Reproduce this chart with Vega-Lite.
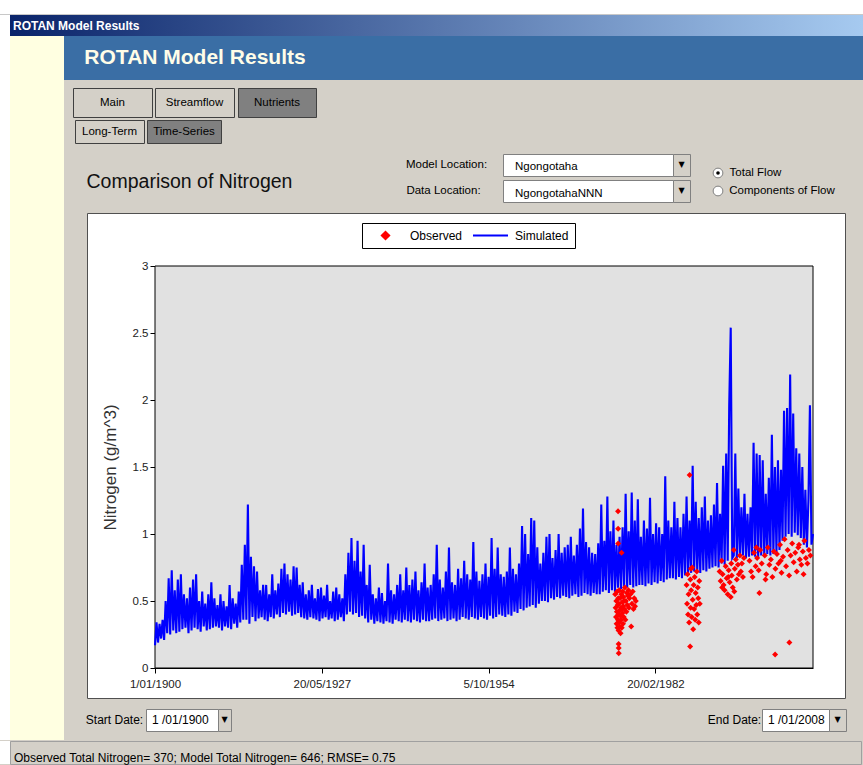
{
"$schema":"https://vega.github.io/schema/vega-lite/v6.json",
"background":"#d4d0c8",
"padding":0,
"autosize":{"type":"pad"},
"spacing":0,
"config":{"view":{"stroke":null},"font":"Liberation Sans","concat":{"spacing":0}},
"datasets":{
"sim":[
{"d":"1900-01","v":0.17},{"d":"1900-04","v":0.34},{"d":"1900-07","v":0.19},{"d":"1900-10","v":0.33},
{"d":"1901-01","v":0.22},{"d":"1901-04","v":0.36},{"d":"1901-07","v":0.21},{"d":"1901-10","v":0.5},
{"d":"1902-01","v":0.26},{"d":"1902-04","v":0.67},{"d":"1902-07","v":0.25},{"d":"1902-10","v":0.73},
{"d":"1903-01","v":0.28},{"d":"1903-04","v":0.58},{"d":"1903-07","v":0.26},{"d":"1903-10","v":0.66},
{"d":"1904-01","v":0.27},{"d":"1904-04","v":0.7},{"d":"1904-07","v":0.29},{"d":"1904-10","v":0.55},
{"d":"1905-01","v":0.3},{"d":"1905-04","v":0.52},{"d":"1905-07","v":0.26},{"d":"1905-10","v":0.6},
{"d":"1906-01","v":0.28},{"d":"1906-04","v":0.66},{"d":"1906-07","v":0.3},{"d":"1906-10","v":0.7},
{"d":"1907-01","v":0.29},{"d":"1907-04","v":0.5},{"d":"1907-07","v":0.27},{"d":"1907-10","v":0.57},
{"d":"1908-01","v":0.31},{"d":"1908-04","v":0.48},{"d":"1908-07","v":0.28},{"d":"1908-10","v":0.55},
{"d":"1909-01","v":0.29},{"d":"1909-04","v":0.64},{"d":"1909-07","v":0.3},{"d":"1909-10","v":0.52},
{"d":"1910-01","v":0.31},{"d":"1910-04","v":0.47},{"d":"1910-07","v":0.3},{"d":"1910-10","v":0.55},
{"d":"1911-01","v":0.28},{"d":"1911-04","v":0.5},{"d":"1911-07","v":0.31},{"d":"1911-10","v":0.46},
{"d":"1912-01","v":0.3},{"d":"1912-04","v":0.62},{"d":"1912-07","v":0.29},{"d":"1912-10","v":0.52},
{"d":"1913-01","v":0.33},{"d":"1913-04","v":0.48},{"d":"1913-07","v":0.3},{"d":"1913-10","v":0.57},
{"d":"1914-01","v":0.34},{"d":"1914-04","v":0.77},{"d":"1914-07","v":0.36},{"d":"1914-10","v":0.92},
{"d":"1915-01","v":0.36},{"d":"1915-04","v":1.22},{"d":"1915-07","v":0.33},{"d":"1915-10","v":0.83},
{"d":"1916-01","v":0.38},{"d":"1916-04","v":0.76},{"d":"1916-07","v":0.35},{"d":"1916-10","v":0.72},
{"d":"1917-01","v":0.37},{"d":"1917-04","v":0.58},{"d":"1917-07","v":0.38},{"d":"1917-10","v":0.62},
{"d":"1918-01","v":0.36},{"d":"1918-04","v":0.62},{"d":"1918-07","v":0.35},{"d":"1918-10","v":0.55},
{"d":"1919-01","v":0.38},{"d":"1919-04","v":0.7},{"d":"1919-07","v":0.37},{"d":"1919-10","v":0.58},
{"d":"1920-01","v":0.4},{"d":"1920-04","v":0.63},{"d":"1920-07","v":0.38},{"d":"1920-10","v":0.74},
{"d":"1921-01","v":0.41},{"d":"1921-04","v":0.78},{"d":"1921-07","v":0.4},{"d":"1921-10","v":0.7},
{"d":"1922-01","v":0.42},{"d":"1922-04","v":0.66},{"d":"1922-07","v":0.39},{"d":"1922-10","v":0.76},
{"d":"1923-01","v":0.4},{"d":"1923-04","v":0.75},{"d":"1923-07","v":0.41},{"d":"1923-10","v":0.62},
{"d":"1924-01","v":0.38},{"d":"1924-04","v":0.64},{"d":"1924-07","v":0.37},{"d":"1924-10","v":0.55},
{"d":"1925-01","v":0.36},{"d":"1925-04","v":0.58},{"d":"1925-07","v":0.38},{"d":"1925-10","v":0.62},
{"d":"1926-01","v":0.37},{"d":"1926-04","v":0.52},{"d":"1926-07","v":0.36},{"d":"1926-10","v":0.59},
{"d":"1927-01","v":0.35},{"d":"1927-04","v":0.6},{"d":"1927-07","v":0.37},{"d":"1927-10","v":0.54},
{"d":"1928-01","v":0.38},{"d":"1928-04","v":0.62},{"d":"1928-07","v":0.36},{"d":"1928-10","v":0.5},
{"d":"1929-01","v":0.37},{"d":"1929-04","v":0.57},{"d":"1929-07","v":0.35},{"d":"1929-10","v":0.6},
{"d":"1930-01","v":0.36},{"d":"1930-04","v":0.55},{"d":"1930-07","v":0.38},{"d":"1930-10","v":0.52},
{"d":"1931-01","v":0.35},{"d":"1931-04","v":0.7},{"d":"1931-07","v":0.4},{"d":"1931-10","v":0.86},
{"d":"1932-01","v":0.42},{"d":"1932-04","v":0.97},{"d":"1932-07","v":0.4},{"d":"1932-10","v":0.8},
{"d":"1933-01","v":0.41},{"d":"1933-04","v":0.95},{"d":"1933-07","v":0.38},{"d":"1933-10","v":0.72},
{"d":"1934-01","v":0.39},{"d":"1934-04","v":0.92},{"d":"1934-07","v":0.37},{"d":"1934-10","v":0.62},
{"d":"1935-01","v":0.34},{"d":"1935-04","v":0.77},{"d":"1935-07","v":0.36},{"d":"1935-10","v":0.55},
{"d":"1936-01","v":0.33},{"d":"1936-04","v":0.52},{"d":"1936-07","v":0.35},{"d":"1936-10","v":0.6},
{"d":"1937-01","v":0.34},{"d":"1937-04","v":0.56},{"d":"1937-07","v":0.33},{"d":"1937-10","v":0.5},
{"d":"1938-01","v":0.35},{"d":"1938-04","v":0.78},{"d":"1938-07","v":0.34},{"d":"1938-10","v":0.58},
{"d":"1939-01","v":0.33},{"d":"1939-04","v":0.55},{"d":"1939-07","v":0.36},{"d":"1939-10","v":0.62},
{"d":"1940-01","v":0.35},{"d":"1940-04","v":0.7},{"d":"1940-07","v":0.34},{"d":"1940-10","v":0.58},
{"d":"1941-01","v":0.36},{"d":"1941-04","v":0.75},{"d":"1941-07","v":0.35},{"d":"1941-10","v":0.62},
{"d":"1942-01","v":0.34},{"d":"1942-04","v":0.66},{"d":"1942-07","v":0.36},{"d":"1942-10","v":0.72},
{"d":"1943-01","v":0.35},{"d":"1943-04","v":0.58},{"d":"1943-07","v":0.34},{"d":"1943-10","v":0.64},
{"d":"1944-01","v":0.36},{"d":"1944-04","v":0.78},{"d":"1944-07","v":0.35},{"d":"1944-10","v":0.6},
{"d":"1945-01","v":0.35},{"d":"1945-04","v":0.62},{"d":"1945-07","v":0.36},{"d":"1945-10","v":0.7},
{"d":"1946-01","v":0.37},{"d":"1946-04","v":0.92},{"d":"1946-07","v":0.35},{"d":"1946-10","v":0.66},
{"d":"1947-01","v":0.36},{"d":"1947-04","v":0.6},{"d":"1947-07","v":0.37},{"d":"1947-10","v":0.72},
{"d":"1948-01","v":0.35},{"d":"1948-04","v":0.9},{"d":"1948-07","v":0.36},{"d":"1948-10","v":0.64},
{"d":"1949-01","v":0.37},{"d":"1949-04","v":0.62},{"d":"1949-07","v":0.35},{"d":"1949-10","v":0.74},
{"d":"1950-01","v":0.36},{"d":"1950-04","v":0.67},{"d":"1950-07","v":0.38},{"d":"1950-10","v":0.8},
{"d":"1951-01","v":0.37},{"d":"1951-04","v":0.7},{"d":"1951-07","v":0.36},{"d":"1951-10","v":0.66},
{"d":"1952-01","v":0.38},{"d":"1952-04","v":0.94},{"d":"1952-07","v":0.37},{"d":"1952-10","v":0.72},
{"d":"1953-01","v":0.36},{"d":"1953-04","v":0.65},{"d":"1953-07","v":0.38},{"d":"1953-10","v":0.7},
{"d":"1954-01","v":0.37},{"d":"1954-04","v":0.78},{"d":"1954-07","v":0.36},{"d":"1954-10","v":0.68},
{"d":"1955-01","v":0.39},{"d":"1955-04","v":0.97},{"d":"1955-07","v":0.37},{"d":"1955-10","v":0.74},
{"d":"1956-01","v":0.38},{"d":"1956-04","v":0.9},{"d":"1956-07","v":0.4},{"d":"1956-10","v":0.7},
{"d":"1957-01","v":0.39},{"d":"1957-04","v":0.68},{"d":"1957-07","v":0.38},{"d":"1957-10","v":0.72},
{"d":"1958-01","v":0.4},{"d":"1958-04","v":0.9},{"d":"1958-07","v":0.39},{"d":"1958-10","v":0.74},
{"d":"1959-01","v":0.42},{"d":"1959-04","v":0.7},{"d":"1959-07","v":0.41},{"d":"1959-10","v":0.78},
{"d":"1960-01","v":0.44},{"d":"1960-04","v":1.06},{"d":"1960-07","v":0.43},{"d":"1960-10","v":1.0},
{"d":"1961-01","v":0.45},{"d":"1961-04","v":0.85},{"d":"1961-07","v":0.46},{"d":"1961-10","v":1.12},
{"d":"1962-01","v":0.47},{"d":"1962-04","v":1.1},{"d":"1962-07","v":0.45},{"d":"1962-10","v":0.9},
{"d":"1963-01","v":0.48},{"d":"1963-04","v":0.78},{"d":"1963-07","v":0.5},{"d":"1963-10","v":0.86},
{"d":"1964-01","v":0.5},{"d":"1964-04","v":0.98},{"d":"1964-07","v":0.49},{"d":"1964-10","v":1.0},
{"d":"1965-01","v":0.52},{"d":"1965-04","v":0.82},{"d":"1965-07","v":0.51},{"d":"1965-10","v":0.88},
{"d":"1966-01","v":0.53},{"d":"1966-04","v":1.0},{"d":"1966-07","v":0.52},{"d":"1966-10","v":0.86},
{"d":"1967-01","v":0.54},{"d":"1967-04","v":0.9},{"d":"1967-07","v":0.53},{"d":"1967-10","v":0.92},
{"d":"1968-01","v":0.52},{"d":"1968-04","v":0.98},{"d":"1968-07","v":0.54},{"d":"1968-10","v":0.84},
{"d":"1969-01","v":0.55},{"d":"1969-04","v":0.92},{"d":"1969-07","v":0.53},{"d":"1969-10","v":1.04},
{"d":"1970-01","v":0.54},{"d":"1970-04","v":1.19},{"d":"1970-07","v":0.56},{"d":"1970-10","v":0.94},
{"d":"1971-01","v":0.55},{"d":"1971-04","v":0.9},{"d":"1971-07","v":0.54},{"d":"1971-10","v":0.86},
{"d":"1972-01","v":0.56},{"d":"1972-04","v":0.85},{"d":"1972-07","v":0.55},{"d":"1972-10","v":0.93},
{"d":"1973-01","v":0.55},{"d":"1973-04","v":1.22},{"d":"1973-07","v":0.57},{"d":"1973-10","v":0.95},
{"d":"1974-01","v":0.58},{"d":"1974-04","v":1.28},{"d":"1974-07","v":0.56},{"d":"1974-10","v":1.02},
{"d":"1975-01","v":0.58},{"d":"1975-04","v":1.1},{"d":"1975-07","v":0.57},{"d":"1975-10","v":0.92},
{"d":"1976-01","v":0.6},{"d":"1976-04","v":0.98},{"d":"1976-07","v":0.59},{"d":"1976-10","v":1.05},
{"d":"1977-01","v":0.61},{"d":"1977-04","v":1.3},{"d":"1977-07","v":0.6},{"d":"1977-10","v":1.02},
{"d":"1978-01","v":0.62},{"d":"1978-04","v":1.31},{"d":"1978-07","v":0.6},{"d":"1978-10","v":1.1},
{"d":"1979-01","v":0.61},{"d":"1979-04","v":1.26},{"d":"1979-07","v":0.62},{"d":"1979-10","v":0.98},
{"d":"1980-01","v":0.62},{"d":"1980-04","v":1.1},{"d":"1980-07","v":0.61},{"d":"1980-10","v":1.04},
{"d":"1981-01","v":0.63},{"d":"1981-04","v":1.27},{"d":"1981-07","v":0.62},{"d":"1981-10","v":1.0},
{"d":"1982-01","v":0.64},{"d":"1982-04","v":1.08},{"d":"1982-07","v":0.63},{"d":"1982-10","v":1.05},
{"d":"1983-01","v":0.65},{"d":"1983-04","v":1.0},{"d":"1983-07","v":0.64},{"d":"1983-10","v":1.43},
{"d":"1984-01","v":0.66},{"d":"1984-04","v":1.1},{"d":"1984-07","v":0.67},{"d":"1984-10","v":1.05},
{"d":"1985-01","v":0.67},{"d":"1985-04","v":1.24},{"d":"1985-07","v":0.66},{"d":"1985-10","v":1.12},
{"d":"1986-01","v":0.68},{"d":"1986-04","v":1.05},{"d":"1986-07","v":0.67},{"d":"1986-10","v":1.15},
{"d":"1987-01","v":0.69},{"d":"1987-04","v":1.28},{"d":"1987-07","v":0.7},{"d":"1987-10","v":1.1},
{"d":"1988-01","v":0.71},{"d":"1988-04","v":1.51},{"d":"1988-07","v":0.72},{"d":"1988-10","v":1.24},
{"d":"1989-01","v":0.72},{"d":"1989-04","v":1.12},{"d":"1989-07","v":0.71},{"d":"1989-10","v":1.2},
{"d":"1990-01","v":0.73},{"d":"1990-04","v":1.28},{"d":"1990-07","v":0.72},{"d":"1990-10","v":1.1},
{"d":"1991-01","v":0.74},{"d":"1991-04","v":1.14},{"d":"1991-07","v":0.75},{"d":"1991-10","v":1.22},
{"d":"1992-01","v":0.76},{"d":"1992-04","v":1.38},{"d":"1992-07","v":0.75},{"d":"1992-10","v":1.15},
{"d":"1993-01","v":0.78},{"d":"1993-04","v":1.51},{"d":"1993-07","v":0.77},{"d":"1993-10","v":1.6},
{"d":"1994-01","v":0.8},{"d":"1994-04","v":1.96},{"d":"1994-07","v":2.54},{"d":"1994-10","v":0.82},
{"d":"1995-01","v":0.84},{"d":"1995-04","v":1.6},{"d":"1995-07","v":0.82},{"d":"1995-10","v":1.34},
{"d":"1996-01","v":0.83},{"d":"1996-04","v":1.2},{"d":"1996-07","v":0.84},{"d":"1996-10","v":1.3},
{"d":"1997-01","v":0.82},{"d":"1997-04","v":1.15},{"d":"1997-07","v":0.83},{"d":"1997-10","v":1.2},
{"d":"1998-01","v":0.84},{"d":"1998-04","v":1.68},{"d":"1998-07","v":0.83},{"d":"1998-10","v":1.6},
{"d":"1999-01","v":0.82},{"d":"1999-04","v":1.59},{"d":"1999-07","v":0.84},{"d":"1999-10","v":1.55},
{"d":"2000-01","v":0.83},{"d":"2000-04","v":1.3},{"d":"2000-07","v":0.85},{"d":"2000-10","v":1.42},
{"d":"2001-01","v":0.84},{"d":"2001-04","v":1.74},{"d":"2001-07","v":0.85},{"d":"2001-10","v":1.5},
{"d":"2002-01","v":0.86},{"d":"2002-04","v":1.55},{"d":"2002-07","v":0.88},{"d":"2002-10","v":1.48},
{"d":"2003-01","v":0.95},{"d":"2003-04","v":1.92},{"d":"2003-07","v":0.98},{"d":"2003-10","v":1.94},
{"d":"2004-01","v":1.0},{"d":"2004-04","v":2.19},{"d":"2004-07","v":0.98},{"d":"2004-10","v":1.9},
{"d":"2005-01","v":1.01},{"d":"2005-04","v":1.64},{"d":"2005-07","v":0.99},{"d":"2005-10","v":1.6},
{"d":"2006-01","v":0.97},{"d":"2006-04","v":1.5},{"d":"2006-07","v":0.92},{"d":"2006-10","v":1.33},
{"d":"2007-01","v":0.9},{"d":"2007-04","v":1.25},{"d":"2007-07","v":1.96},{"d":"2007-10","v":0.92},
{"d":"2008-01","v":1.0}
],
"obs":[
{"d":"1975-07-15","v":0.55},{"d":"1975-08-10","v":0.45},{"d":"1975-09-01","v":0.38},{"d":"1975-09-20","v":0.5},{"d":"1975-10-10","v":0.33},{"d":"1975-10-25","v":0.42},{"d":"1975-11-10","v":0.57},{"d":"1975-11-25","v":0.3},{"d":"1975-12-10","v":0.47},{"d":"1975-12-25","v":0.36},
{"d":"1976-01-01","v":1.17},{"d":"1976-01-05","v":1.04},{"d":"1976-01-10","v":0.93},{"d":"1976-01-15","v":0.52},{"d":"1976-01-25","v":0.4},{"d":"1976-02-01","v":0.28},{"d":"1976-02-05","v":0.18},{"d":"1976-02-08","v":0.15},{"d":"1976-02-12","v":0.11},{"d":"1976-02-20","v":0.48},
{"d":"1976-03-01","v":0.34},{"d":"1976-03-15","v":0.58},{"d":"1976-04-01","v":0.43},{"d":"1976-04-15","v":0.31},{"d":"1976-05-01","v":0.52},{"d":"1976-05-15","v":0.39},{"d":"1976-06-01","v":0.26},{"d":"1976-06-15","v":0.45},{"d":"1976-07-01","v":0.36},{"d":"1976-07-15","v":0.55},
{"d":"1976-08-01","v":0.86},{"d":"1976-08-10","v":0.3},{"d":"1976-08-25","v":0.44},{"d":"1976-09-10","v":0.49},{"d":"1976-09-25","v":0.41},{"d":"1976-10-10","v":0.57},{"d":"1976-10-25","v":0.33},{"d":"1976-11-10","v":0.46},{"d":"1976-11-25","v":0.53},{"d":"1976-12-10","v":0.38},
{"d":"1976-12-25","v":0.5},{"d":"1977-01-15","v":0.44},{"d":"1977-02-15","v":0.6},{"d":"1977-03-15","v":0.36},{"d":"1977-04-15","v":0.5},{"d":"1977-05-15","v":0.42},{"d":"1977-06-15","v":0.56},{"d":"1977-07-15","v":0.47},{"d":"1977-08-15","v":0.54},{"d":"1977-09-15","v":0.58},
{"d":"1977-10-15","v":0.45},{"d":"1977-11-15","v":0.52},{"d":"1978-01-15","v":0.55},{"d":"1978-03-01","v":0.31},{"d":"1978-04-15","v":0.48},{"d":"1978-06-01","v":0.57},{"d":"1978-07-15","v":0.44},{"d":"1978-09-01","v":0.52},{"d":"1978-10-15","v":0.46},{"d":"1978-12-01","v":0.5},
{"d":"1987-04-01","v":0.62},{"d":"1987-05-01","v":0.48},{"d":"1987-06-01","v":0.7},{"d":"1987-07-01","v":0.4},{"d":"1987-08-01","v":0.55},{"d":"1987-09-01","v":0.34},{"d":"1987-10-01","v":1.44},{"d":"1987-11-01","v":0.16},{"d":"1987-11-15","v":0.66},{"d":"1987-12-01","v":0.45},
{"d":"1987-12-20","v":0.74},{"d":"1988-01-01","v":0.58},{"d":"1988-02-01","v":0.38},{"d":"1988-03-01","v":0.75},{"d":"1988-04-01","v":0.51},{"d":"1988-05-01","v":0.29},{"d":"1988-06-01","v":0.62},{"d":"1988-07-01","v":0.44},{"d":"1988-08-01","v":0.68},{"d":"1988-09-01","v":0.36},
{"d":"1988-10-01","v":0.56},{"d":"1988-11-01","v":0.47},{"d":"1988-12-01","v":0.72},{"d":"1989-01-01","v":0.4},{"d":"1989-02-01","v":0.6},{"d":"1989-03-01","v":0.52},{"d":"1989-04-01","v":0.34},{"d":"1989-05-01","v":0.65},{"d":"1989-06-01","v":0.48},
{"d":"1992-09-01","v":0.72},{"d":"1992-11-01","v":0.65},{"d":"1993-01-01","v":0.8},{"d":"1993-02-01","v":0.6},{"d":"1993-03-01","v":0.7},{"d":"1993-05-01","v":0.62},{"d":"1993-07-01","v":0.58},{"d":"1993-09-01","v":0.76},{"d":"1993-11-01","v":0.67},{"d":"1994-01-01","v":0.55},
{"d":"1994-02-01","v":0.68},{"d":"1994-03-01","v":0.73},{"d":"1994-05-01","v":0.64},{"d":"1994-07-01","v":0.53},{"d":"1994-08-01","v":0.78},{"d":"1994-09-01","v":0.69},{"d":"1994-11-01","v":0.6},{"d":"1995-01-01","v":0.88},{"d":"1995-02-01","v":0.57},{"d":"1995-03-01","v":0.74},
{"d":"1995-05-01","v":0.81},{"d":"1995-07-01","v":0.66},{"d":"1995-09-01","v":0.77},{"d":"1995-11-01","v":0.7},{"d":"1996-01-01","v":0.84},{"d":"1996-03-01","v":0.72},{"d":"1996-05-01","v":0.78},{"d":"1996-07-01","v":0.68},{"d":"1996-09-01","v":0.82},
{"d":"1997-08-01","v":0.8},{"d":"1997-11-01","v":0.72},{"d":"1998-02-01","v":0.68},{"d":"1998-05-01","v":0.86},{"d":"1998-08-01","v":0.76},{"d":"1998-09-15","v":0.9},{"d":"1998-11-01","v":0.82},{"d":"1999-02-01","v":0.73},{"d":"1999-03-15","v":0.56},{"d":"1999-05-01","v":0.88},
{"d":"1999-08-01","v":0.78},{"d":"2000-02-01","v":0.84},{"d":"2000-03-15","v":0.66},{"d":"2000-05-01","v":0.7},{"d":"2000-08-01","v":0.9},{"d":"2000-11-01","v":0.77},{"d":"2001-02-01","v":0.81},{"d":"2001-05-01","v":0.68},{"d":"2001-08-01","v":0.87},{"d":"2001-10-15","v":0.1},
{"d":"2001-11-01","v":0.74},{"d":"2002-02-01","v":0.85},{"d":"2002-05-01","v":0.78},{"d":"2002-08-01","v":0.92},{"d":"2002-09-15","v":0.8},{"d":"2002-11-01","v":0.71},{"d":"2003-02-01","v":0.83},{"d":"2003-05-01","v":0.96},{"d":"2003-08-01","v":0.76},{"d":"2003-11-01","v":0.88},
{"d":"2004-02-01","v":0.69},{"d":"2004-02-15","v":0.19},{"d":"2004-05-01","v":0.84},{"d":"2004-08-01","v":0.93},{"d":"2004-11-01","v":0.79},{"d":"2005-02-01","v":0.86},{"d":"2005-05-01","v":0.72},{"d":"2005-08-01","v":0.9},{"d":"2005-09-15","v":0.92},{"d":"2005-11-01","v":0.81},
{"d":"2006-02-01","v":0.77},{"d":"2006-05-01","v":0.87},{"d":"2006-06-15","v":0.7},{"d":"2006-08-01","v":0.95},{"d":"2006-11-01","v":0.82},{"d":"2007-02-01","v":0.78},{"d":"2007-05-01","v":0.88},{"d":"2007-08-01","v":0.84}
]
},
"vconcat":[
{"width":863,"height":14,"data":{"values":[]},"mark":"point","view":{"fill":"#ffffff"}},
{"width":863,"height":1,"data":{"values":[]},"mark":"point","view":{"fill":"#c8c8c8"}},
{"spacing":0,"bounds":"flush","hconcat":[
 {"width":10,"height":21,"data":{"values":[]},"mark":"point","view":{"fill":"#ffffff"}},
 {"width":853,"height":21,"data":{"values":[{}]},"mark":{"type":"rect","fill":{"gradient":"linear","x1":0,"y1":0,"x2":1,"y2":0,"stops":[{"offset":0,"color":"#0a246a"},{"offset":1,"color":"#a6caf0"}]}},
  "title":{"text":"ROTAN Model Results","anchor":"start","frame":"group","dx":3,"offset":-18,"fontSize":12,"fontWeight":"bold","color":"#ffffff","font":"Liberation Sans"}}
]},
{"spacing":0,"hconcat":[
 {"width":10,"height":704,"data":{"values":[]},"mark":"point","view":{"fill":"#ffffff"}},
 {"width":54,"height":704,"data":{"values":[]},"mark":"point","view":{"fill":"#ffffe1"}},
 {"spacing":0,"vconcat":[
  {"spacing":0,"bounds":"flush","hconcat":[
   {"width":13,"height":44,"data":{"values":[]},"mark":"point","view":{"fill":"#3a6ea5"}},
   {"width":236,"height":44,"data":{"values":[{"t":"ROTAN Model Results"}]},"mark":{"type":"text","font":"Liberation Sans","fontSize":21,"fontWeight":"bold","color":"#fffde8"},"encoding":{"text":{"field":"t"}},"view":{"fill":"#3a6ea5"}},
   {"width":550,"height":44,"data":{"values":[]},"mark":"point","view":{"fill":"#3a6ea5"}}
  ]},
  {"width":1,"height":7,"data":{"values":[]},"mark":"point"},
  {"spacing":0,"bounds":"flush","hconcat":[
   {"width":9,"height":29,"data":{"values":[]},"mark":"point"},
   {"width":79,"height":29,"data":{"values":[{"t":"Main"}]},"mark":{"type":"text","font":"Liberation Sans","fontSize":11.5,"color":"#000000"},"encoding":{"text":{"field":"t"}},"view":{"fill":"#d4d0c8","stroke":"#404040"}},
   {"width":3,"height":29,"data":{"values":[]},"mark":"point"},
   {"width":79,"height":29,"data":{"values":[{"t":"Streamflow"}]},"mark":{"type":"text","font":"Liberation Sans","fontSize":11.5,"color":"#000000"},"encoding":{"text":{"field":"t"}},"view":{"fill":"#d4d0c8","stroke":"#404040"}},
   {"width":4,"height":29,"data":{"values":[]},"mark":"point"},
   {"width":78,"height":29,"data":{"values":[{"t":"Nutrients"}]},"mark":{"type":"text","font":"Liberation Sans","fontSize":11.5,"color":"#000000"},"encoding":{"text":{"field":"t"}},"view":{"fill":"#808080","stroke":"#404040"}}
  ]},
  {"width":1,"height":1,"data":{"values":[]},"mark":"point"},
  {"spacing":0,"bounds":"flush","hconcat":[
   {"width":11,"height":23,"data":{"values":[]},"mark":"point"},
   {"width":69,"height":23,"data":{"values":[{"t":"Long-Term"}]},"mark":{"type":"text","font":"Liberation Sans","fontSize":11.5,"color":"#000000"},"encoding":{"text":{"field":"t"}},"view":{"fill":"#d4d0c8","stroke":"#404040"}},
   {"width":3,"height":23,"data":{"values":[]},"mark":"point"},
   {"width":74,"height":23,"data":{"values":[{"t":"Time-Series"}]},"mark":{"type":"text","font":"Liberation Sans","fontSize":11.5,"color":"#000000"},"encoding":{"text":{"field":"t"}},"view":{"fill":"#808080","stroke":"#404040"}}
  ]},
  {"spacing":0,"hconcat":[
   {"width":17,"height":68,"data":{"values":[]},"mark":"point"},
   {"spacing":0,"bounds":"flush","vconcat":[
    {"width":1,"height":26,"data":{"values":[]},"mark":"point"},
    {"width":217,"height":24,"data":{"values":[{"t":"Comparison of Nitrogen"}]},"mark":{"type":"text","font":"Liberation Sans","fontSize":19.5,"color":"#111111"},"encoding":{"text":{"field":"t"}}}
   ]},
   {"width":103,"height":10,"data":{"values":[]},"mark":"point"},
   {"spacing":0,"vconcat":[
    {"width":1,"height":9,"data":{"values":[]},"mark":"point"},
    {"spacing":0,"bounds":"flush","hconcat":[
     {"width":91,"height":22,"data":{"values":[{"t":"Model Location:"}]},"mark":{"type":"text","font":"Liberation Sans","fontSize":11.5,"color":"#000000"},"encoding":{"text":{"field":"t"}}},
     {"width":11,"height":22,"data":{"values":[]},"mark":"point"},
     {"width":170,"height":22,"data":{"values":[]},"mark":"point","view":{"fill":"#ffffff","stroke":"#808080"},
      "title":{"text":"Ngongotaha","anchor":"start","frame":"group","dx":12,"offset":-18.5,"fontSize":11.5,"fontWeight":"normal","color":"#000000","font":"Liberation Sans"}},
     {"width":17,"height":22,"data":{"values":[{"t":"▼"}]},"mark":{"type":"text","font":"DejaVu Sans","fontSize":8,"color":"#000000"},"encoding":{"text":{"field":"t"}},"view":{"fill":"#d4d0c8","stroke":"#808080"}}
    ]},
    {"width":1,"height":2,"data":{"values":[]},"mark":"point"},
    {"spacing":0,"bounds":"flush","hconcat":[
     {"width":85,"height":22,"data":{"values":[{"t":"Data Location:"}]},"mark":{"type":"text","font":"Liberation Sans","fontSize":11.5,"color":"#000000"},"encoding":{"text":{"field":"t"}}},
     {"width":17,"height":22,"data":{"values":[]},"mark":"point"},
     {"width":170,"height":22,"data":{"values":[]},"mark":"point","view":{"fill":"#ffffff","stroke":"#808080"},
      "title":{"text":"NgongotahaNNN","anchor":"start","frame":"group","dx":12,"offset":-19,"fontSize":11.5,"fontWeight":"normal","color":"#000000","font":"Liberation Sans"}},
     {"width":17,"height":22,"data":{"values":[{"t":"▼"}]},"mark":{"type":"text","font":"DejaVu Sans","fontSize":8,"color":"#000000"},"encoding":{"text":{"field":"t"}},"view":{"fill":"#d4d0c8","stroke":"#808080"}}
    ]}
   ]},
   {"width":20,"height":10,"data":{"values":[]},"mark":"point"},
   {"spacing":0,"vconcat":[
    {"width":1,"height":22,"data":{"values":[]},"mark":"point"},
    {"spacing":0,"bounds":"flush","hconcat":[
     {"width":14,"height":14,"data":{"values":[{}]},"layer":[
      {"mark":{"type":"point","shape":"circle","filled":true,"fill":"#ffffff","stroke":"#808080","strokeWidth":1,"size":95,"opacity":1}},
      {"mark":{"type":"point","shape":"circle","filled":true,"fill":"#000000","size":13,"opacity":1}}
     ]},
     {"width":1,"height":14,"data":{"values":[]},"mark":"point"},
     {"width":59,"height":14,"data":{"values":[{"t":"Total Flow"}]},"mark":{"type":"text","font":"Liberation Sans","fontSize":11.5,"color":"#000000"},"encoding":{"text":{"field":"t"}}}
    ]},
    {"width":1,"height":4,"data":{"values":[]},"mark":"point"},
    {"spacing":0,"bounds":"flush","hconcat":[
     {"width":14,"height":14,"data":{"values":[{}]},"mark":{"type":"point","shape":"circle","filled":true,"fill":"#ffffff","stroke":"#808080","strokeWidth":1,"size":95,"opacity":1}},
     {"width":1,"height":14,"data":{"values":[]},"mark":"point"},
     {"width":112,"height":14,"data":{"values":[{"t":"Components of Flow"}]},"mark":{"type":"text","font":"Liberation Sans","fontSize":11.5,"color":"#000000"},"encoding":{"text":{"field":"t"}}}
    ]}
   ]}
  ]},
  {"spacing":0,"bounds":"flush","hconcat":[
   {"width":23,"height":485,"data":{"values":[]},"mark":"point"},
   {"width":758,"height":485,
    "view":{"fill":"#ffffff","stroke":"#505050","strokeWidth":1},
    "layer":[
     {"data":{"values":[{}]},
      "mark":{"type":"rect","fill":"#e1e1e1","stroke":"#000000","strokeWidth":1},
      "encoding":{
       "x":{"datum":{"year":1900,"month":1,"date":1,"utc":true},"type":"temporal",
        "scale":{"type":"utc","domain":[{"year":1900,"month":1,"date":1,"utc":true},{"year":2008,"month":1,"date":1,"utc":true}],"range":[68,726],"nice":false},
        "axis":{"orient":"bottom","offset":-30,"values":[{"year":1900,"month":1,"date":1,"utc":true},{"year":1927,"month":5,"date":20,"utc":true},{"year":1954,"month":10,"date":5,"utc":true},{"year":1982,"month":2,"date":20,"utc":true}],"format":"%-d/%m/%Y","grid":false,"domainColor":"#000000","domainWidth":1,"tickColor":"#000000","tickSize":5,"tickWidth":1,"labelFont":"Liberation Sans","labelFontSize":11.5,"labelColor":"#222222","labelPadding":5,"labelFlush":false,"labelOverlap":false,"title":null}},
       "x2":{"datum":{"year":2008,"month":1,"date":1,"utc":true}},
       "y":{"datum":0,"type":"quantitative",
        "scale":{"domain":[0,3],"range":[455,53],"nice":false,"zero":false},
        "axis":{"orient":"left","offset":-68,"values":[0,0.5,1,1.5,2,2.5,3],"format":"~g","grid":false,"domainColor":"#000000","domainWidth":1,"tickColor":"#000000","tickSize":5,"tickWidth":1,"labelFont":"Liberation Sans","labelFontSize":11.5,"labelColor":"#222222","labelPadding":2,"labelFlush":false,"labelOverlap":false,"title":"Nitrogen (g/m^3)","titleFont":"Liberation Sans","titleFontSize":17,"titleFontWeight":"normal","titleColor":"#333333","titlePadding":13}},
       "y2":{"datum":3}
      }},
     {"data":{"name":"sim"},
      "mark":{"type":"line","strokeWidth":2.1,"interpolate":"linear","color":"#0000ff"},
      "encoding":{
       "x":{"field":"d","type":"temporal"},
       "y":{"field":"v","type":"quantitative"}
      }},
     {"data":{"name":"obs"},
      "mark":{"type":"point","shape":"diamond","filled":true,"color":"#ff0000","size":36,"opacity":1},
      "encoding":{
       "x":{"field":"d","type":"temporal"},
       "y":{"field":"v","type":"quantitative"}
      }},
     {"data":{"values":[]},
      "mark":{"type":"point","filled":true,"opacity":1},
      "encoding":{
       "color":{"datum":"Observed","type":"nominal","scale":{"domain":["Observed","Simulated"],"range":["#ff0000","#0000ff"]},
        "legend":{"orient":"none","legendX":362,"legendY":223,"direction":"horizontal","title":null,"fillColor":"#ffffff","strokeColor":"#000000","padding":6,"symbolSize":1225,"clipHeight":13,"labelFont":"Liberation Sans","labelFontSize":12,"labelColor":"#000000","labelOffset":7,"columnPadding":10,"symbolOpacity":1,"symbolStrokeWidth":0}},
       "shape":{"datum":"Observed","type":"nominal","scale":{"domain":["Observed","Simulated"],"range":["M-0.29,0L0,-0.29L0.29,0L0,0.29Z","M-1,-0.06L1,-0.06L1,0.06L-1,0.06Z"]},
        "legend":{"orient":"none","legendX":362,"legendY":223,"direction":"horizontal","title":null,"fillColor":"#ffffff","strokeColor":"#000000","padding":6,"symbolSize":1225,"clipHeight":13,"labelFont":"Liberation Sans","labelFontSize":12,"labelColor":"#000000","labelOffset":7,"columnPadding":10,"symbolOpacity":1,"symbolStrokeWidth":0}}
      }}
    ]}
  ]},
  {"spacing":0,"vconcat":[
   {"width":1,"height":9,"data":{"values":[]},"mark":"point"},
   {"spacing":0,"bounds":"flush","hconcat":[
    {"width":19,"height":22,"data":{"values":[]},"mark":"point"},
    {"width":63,"height":22,"data":{"values":[{"t":"Start Date:"}]},"mark":{"type":"text","font":"Liberation Sans","fontSize":12,"color":"#000000"},"encoding":{"text":{"field":"t"}}},
    {"width":72,"height":22,"data":{"values":[]},"mark":"point","view":{"fill":"#ffffff","stroke":"#808080"},
     "title":{"text":"1 /01/1900","anchor":"start","frame":"group","dx":6,"offset":-18,"fontSize":12,"fontWeight":"normal","color":"#000000","font":"Liberation Sans"}},
    {"width":13,"height":22,"data":{"values":[{"t":"▼"}]},"mark":{"type":"text","font":"DejaVu Sans","fontSize":8,"color":"#000000"},"encoding":{"text":{"field":"t"}},"view":{"fill":"#d4d0c8","stroke":"#808080"}},
    {"width":476,"height":22,"data":{"values":[]},"mark":"point"},
    {"width":55,"height":22,"data":{"values":[{"t":"End Date:"}]},"mark":{"type":"text","font":"Liberation Sans","fontSize":12,"color":"#000000"},"encoding":{"text":{"field":"t"}}},
    {"width":67,"height":22,"data":{"values":[]},"mark":"point","view":{"fill":"#ffffff","stroke":"#808080"},
     "title":{"text":"1 /01/2008","anchor":"start","frame":"group","dx":6,"offset":-18,"fontSize":12,"fontWeight":"normal","color":"#000000","font":"Liberation Sans"}},
    {"width":17,"height":22,"data":{"values":[{"t":"▼"}]},"mark":{"type":"text","font":"DejaVu Sans","fontSize":8,"color":"#000000"},"encoding":{"text":{"field":"t"}},"view":{"fill":"#d4d0c8","stroke":"#808080"}}
   ]},
   {"width":1,"height":8,"data":{"values":[]},"mark":"point"}
  ]}
 ]}
]},
{"spacing":0,"bounds":"flush","hconcat":[
 {"width":10,"height":23,"data":{"values":[]},"mark":"point","view":{"fill":"#ffffff"}},
 {"width":851,"height":23,"data":{"values":[]},"mark":"point","view":{"fill":"#d4d0c8","stroke":"#a0a0a0"},
  "title":{"text":"Observed Total Nitrogen= 370; Model Total Nitrogen= 646; RMSE= 0.75","anchor":"start","frame":"group","dx":4,"offset":-24,"fontSize":12,"fontWeight":"normal","color":"#000000","font":"Liberation Sans"}}
]}
]
}
